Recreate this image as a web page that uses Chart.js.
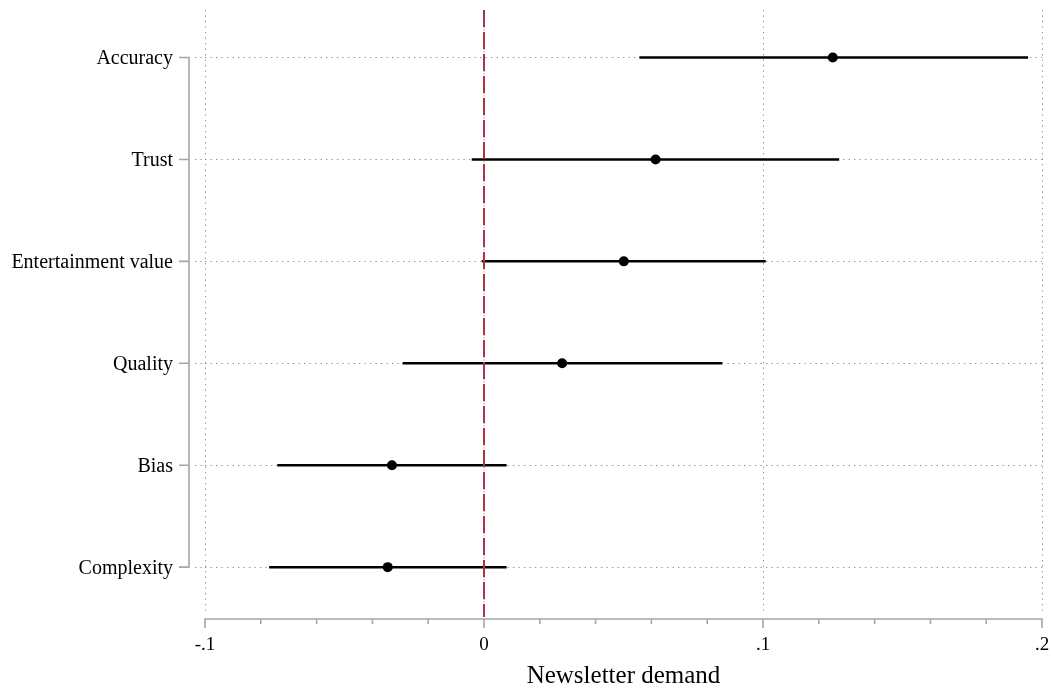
<!DOCTYPE html>
<html>
<head>
<meta charset="utf-8">
<script src="https://cdn.jsdelivr.net/npm/chart.js@4.4.1/dist/chart.umd.min.js"></script>
<style>
html,body{margin:0;padding:0;background:#fff;}
canvas{display:block;}
</style>
</head>
<body>
<canvas id="c" width="1051" height="693"></canvas>
<script>
const categories = ['Accuracy', 'Trust', 'Entertainment value', 'Quality', 'Bias', 'Complexity'];
const estimates = [0.125, 0.0615, 0.0501, 0.028, -0.033, -0.0345];
const lowerCI  = [0.0557, -0.0044, -0.0008, -0.0292, -0.0741, -0.0770];
const upperCI  = [0.1950, 0.1273, 0.1010, 0.0854, 0.0081, 0.0081];
const xTickValues = [-0.1, 0, 0.1, 0.2];
const xTickLabels = ['-.1', '0', '.1', '.2'];
const xMinorTicks = [-0.08, -0.06, -0.04, -0.02, 0.02, 0.04, 0.06, 0.08, 0.12, 0.14, 0.16, 0.18];
const referenceValue = 0;
const xTitle = 'Newsletter demand';

const FONT = "'Liberation Serif', 'Times New Roman', serif";
const AXIS_GRAY = '#a6a6a6';
const GRID_GRAY = '#8f8f8f';
const GRID_DASH = [1.3, 4.2];

const ciDatasets = categories.map((c, i) => ({
  type: 'scatter',
  label: c,
  data: [{x: lowerCI[i], y: i}, {x: upperCI[i], y: i}],
  showLine: true,
  borderColor: '#000',
  borderWidth: 2.5,
  pointRadius: 0,
  order: 2
}));

const pointDataset = {
  type: 'scatter',
  label: 'Estimate',
  data: categories.map((c, i) => ({x: estimates[i], y: i})),
  backgroundColor: '#000',
  borderColor: '#000',
  pointRadius: 5,
  pointBorderWidth: 0,
  order: 1
};

const axesPlugin = {
  id: 'stataAxes',
  beforeDatasetsDraw(chart) {
    const ctx = chart.ctx;
    const ys = chart.scales.y;
    const area = chart.chartArea;
    ctx.save();
    ctx.strokeStyle = GRID_GRAY;
    ctx.lineWidth = 1;
    ctx.setLineDash(GRID_DASH);
    categories.forEach((c, i) => {
      const py = Math.round(ys.getPixelForValue(i)) + 0.5;
      ctx.beginPath();
      ctx.moveTo(area.left - 10, py);
      ctx.lineTo(area.left - 1, py);
      ctx.stroke();
    });
    ctx.restore();
  },
  afterDatasetsDraw(chart) {
    const ctx = chart.ctx;
    const xs = chart.scales.x, ys = chart.scales.y;
    const area = chart.chartArea;
    ctx.save();
    // x axis line + ticks
    const axisY = area.bottom + 7;
    ctx.strokeStyle = AXIS_GRAY;
    ctx.lineWidth = 1.6;
    ctx.setLineDash([]);
    ctx.beginPath();
    ctx.moveTo(xs.getPixelForValue(xTickValues[0]) - 0.8, axisY);
    ctx.lineTo(xs.getPixelForValue(xTickValues[xTickValues.length - 1]) + 0.8, axisY);
    xTickValues.forEach(v => {
      const px = xs.getPixelForValue(v);
      ctx.moveTo(px, axisY);
      ctx.lineTo(px, axisY + 9);
    });
    xMinorTicks.forEach(v => {
      const px = xs.getPixelForValue(v);
      ctx.moveTo(px, axisY);
      ctx.lineTo(px, axisY + 5);
    });
    ctx.stroke();
    // y axis line + ticks
    const axisX = area.left - 16;
    ctx.beginPath();
    ctx.moveTo(axisX, ys.getPixelForValue(0) - 0.8);
    ctx.lineTo(axisX, ys.getPixelForValue(categories.length - 1) + 0.8);
    categories.forEach((c, i) => {
      const py = ys.getPixelForValue(i);
      ctx.moveTo(axisX, py);
      ctx.lineTo(axisX - 10, py);
    });
    ctx.stroke();
    // reference line
    const rx = xs.getPixelForValue(referenceValue);
    ctx.strokeStyle = '#ad3246';
    ctx.lineWidth = 2;
    ctx.setLineDash([17, 5]);
    ctx.beginPath();
    ctx.moveTo(rx, area.top);
    ctx.lineTo(rx, axisY - 2);
    ctx.stroke();
    // tiny dots in dash gaps
    ctx.strokeStyle = '#c9a0a8';
    ctx.lineWidth = 1.5;
    ctx.setLineDash([1, 21]);
    ctx.lineDashOffset = -19.5;
    ctx.beginPath();
    ctx.moveTo(rx, area.top);
    ctx.lineTo(rx, axisY - 2);
    ctx.stroke();
    ctx.restore();
  }
};

new Chart(document.getElementById('c'), {
  type: 'scatter',
  data: { datasets: [...ciDatasets, pointDataset] },
  options: {
    responsive: false,
    animation: false,
    events: [],
    layout: { padding: { left: 0, right: 9, top: 10, bottom: 0 } },
    plugins: { legend: { display: false }, tooltip: { enabled: false } },
    scales: {
      x: {
        type: 'linear',
        position: 'bottom',
        min: xTickValues[0],
        max: xTickValues[xTickValues.length - 1],
        afterBuildTicks: s => { s.ticks = xTickValues.map(v => ({ value: v })); },
        afterFit: s => { s.height = 81; s.paddingLeft = 0; s.paddingRight = 0; },
        ticks: {
          callback: (v, i) => xTickLabels[i],
          font: { family: FONT, size: 19 },
          color: '#000',
          padding: 22,
          maxRotation: 0,
          autoSkip: false
        },
        grid: { color: GRID_GRAY, lineWidth: 1, drawTicks: false },
        border: { display: false, dash: GRID_DASH },
        title: {
          display: true,
          text: xTitle,
          font: { family: FONT, size: 25 },
          color: '#000',
          padding: { top: 0, bottom: 2 }
        }
      },
      y: {
        type: 'linear',
        reverse: true,
        min: -0.466,
        max: 5.44,
        afterBuildTicks: s => { s.ticks = categories.map((c, i) => ({ value: i })); },
        afterFit: s => { s.width = 205; s.paddingTop = 0; s.paddingBottom = 0; },
        ticks: {
          callback: (v, i) => categories[i],
          font: { family: FONT, size: 20 },
          color: '#000',
          padding: 32,
          labelOffset: 1.5,
          autoSkip: false
        },
        grid: { color: GRID_GRAY, lineWidth: 1, drawTicks: false },
        border: { display: false, dash: GRID_DASH }
      }
    }
  },
  plugins: [axesPlugin]
});
</script>
</body>
</html>
